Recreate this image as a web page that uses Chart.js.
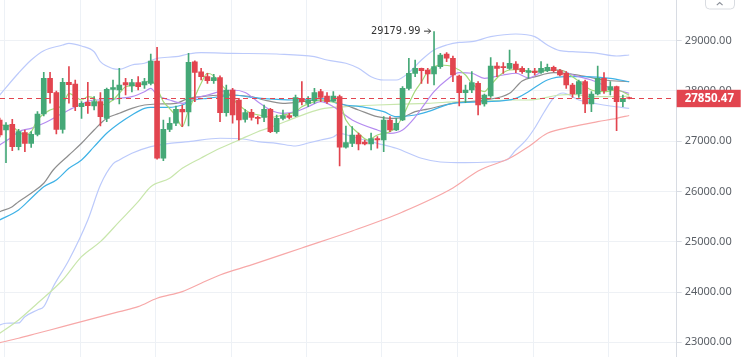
<!DOCTYPE html>
<html><head><meta charset="utf-8">
<script src="https://cdn.jsdelivr.net/npm/chart.js@4.4.1/dist/chart.umd.min.js"></script>
<style>html,body{margin:0;padding:0;background:#fff;overflow:hidden}canvas{display:block}</style>
</head><body>
<canvas id="c" width="744" height="357"></canvas>
<script>
// ---- candle data (index 0..100) ----
const openP = [27423,27224,27337,26891,27170,26959,27138,27542,28252,27966,
27237,28172,28138,27687,27775,27701,27787,27456,28029,28019,
28165,28098,28165,28118,28152,28596,26661,27237,27357,27635,
27582,28582,28383,28284,28204,28264,27568,28019,27820,27436,
27575,27476,27476,27635,27190,27456,27509,27502,27853,27754,
27807,27986,27900,27800,27886,26880,26959,27124,26985,26945,
27051,27025,27423,27224,27423,28053,28351,28450,28417,28338,
28483,28735,28650,28298,27966,28019,28152,27740,27900,28497,
28483,28451,28537,28451,28371,28398,28371,28404,28470,28404,
28351,28119,27940,28185,27741,27940,28252,28019,28085,27787,27866];
const closeP = [27124,27323,26891,27190,26959,27138,27542,28252,27966,27237,
28172,28125,27687,27755,27707,27787,27489,28033,28069,28118,
28118,28165,28085,28185,28596,26661,27237,27357,27635,27582,
28570,28371,28284,28204,28264,27568,28019,27522,27423,27568,
27476,27456,27635,27190,27456,27509,27476,27866,27787,27820,
27966,27874,27787,27900,26880,26971,27124,26945,26945,27051,
27025,27423,27224,27357,28053,28351,28450,28403,28338,28483,
28716,28650,28318,27966,28019,28165,27721,27920,28497,28451,
28463,28550,28431,28384,28404,28364,28451,28470,28404,28318,
28119,27940,28185,27741,27940,28252,28005,28085,27787,27854,27850.47];
const highP = [27463,27369,27437,27237,27224,27190,27588,28371,28371,28000,
28252,28483,28218,27787,28172,27886,27966,28059,28218,28450,
28252,28230,28284,28250,28735,28869,27423,27470,27700,27720,
28750,28600,28450,28350,28330,28300,28118,28052,27853,27630,
27635,27502,27721,27655,27522,27622,27555,27920,28185,27886,
28052,28033,27966,27986,27920,27303,27290,27164,27025,27164,
27091,27489,27489,27456,28085,28650,28616,28457,28450,29179.99,
28749,28762,28696,28318,28119,28384,28185,27940,28662,28563,
28563,28815,28583,28483,28451,28451,28583,28537,28497,28431,
28384,28152,28218,28218,27986,28497,28364,28185,28099,27920,27880];
const lowP = [27085,26573,26812,26826,26792,26879,27104,27502,27755,27144,
27158,27755,27608,27456,27555,27622,27303,27389,27820,27740,
27920,27980,28019,28050,28118,26641,26614,27190,27310,27290,
27303,27787,28218,28150,28150,27389,27500,27357,27025,27380,
27420,27343,27389,27170,27158,27423,27443,27489,27720,27687,
27754,27787,27754,27787,26508,26860,26892,26826,26925,26826,
26860,26793,27190,27210,27409,28019,28284,28152,28152,28119,
28450,28583,28185,27701,27767,27966,27522,27700,27873,28284,
28351,28431,28364,28351,28252,28318,28351,28384,28378,28298,
28053,27873,27873,27568,27588,27920,27953,27920,27210,27687,27840];

// ---- indicator lines, [candle index, price] ----
const bbUpper = [[0,27920],[3,28358],[5,28616],[7,28801],[10,28914],[11,28948],[13,28895],[15,28781],[16,28582],[18,28445],[19,28431],[21,28517],[23,28551],[25,28650],[28,28682],[30,28735],[32,28761],[37,28749],[44,28735],[50,28682],[52,28616],[55,28551],[57,28451],[59,28284],[61,28218],[63,28218],[65,28364],[67,28616],[69,28815],[71,28914],[73,28965],[75,28980],[78,29080],[82,29133],[85,29080],[87,28914],[89,28801],[91,28781],[95,28749],[98,28696],[100,28716]];
const bbLower = [[0,23345],[1,23379],[3,23385],[4,23510],[6,23644],[7,23709],[8.5,24107],[11,24638],[14,25434],[16,26130],[18,26548],[19,26627],[21,26760],[24,26892],[27,26959],[30,26991],[35,27059],[39,27040],[41,26991],[44,26959],[47,26905],[49,26965],[51,27025],[53,27085],[54,27158],[56,27090],[60,26959],[63,26860],[67,26661],[70,26587],[74,26573],[78,26587],[80.5,26627],[82,26826],[83.5,27005],[85,27264],[86.5,27582],[88,27860],[89.5,27960],[92,27820],[95,27741],[97,27701],[100,27655]];
const ma5 = [[0,27323],[2,27290],[3,27190],[4,27124],[5,27190],[6,27423],[8,27622],[10,27721],[11,27954],[12,27886],[13,27820],[14,27886],[15,27854],[16,27721],[18,27820],[19,27954],[20,28085],[22,28119],[23,28153],[24,28218],[25,28053],[26,27787],[27,27650],[28,27500],[29,27290],[30,27622],[31,27886],[32,28153],[33,28352],[34,28300],[35,28150],[36,28019],[37,27850],[38,27720],[39,27622],[40,27556],[42,27502],[43,27476],[45,27522],[47,27588],[48,27687],[50,27787],[51,27820],[52,27787],[54,27755],[55,27423],[57,27158],[58.5,27025],[60,27124],[62,27190],[63,27290],[64,27488],[65,27750],[66,28000],[67,28180],[68,28383],[70,28517],[72,28483],[74,28318],[75,28153],[77,27986],[78,28119],[79.5,28318],[81,28417],[83,28430],[84,28383],[89,28417],[91,28284],[94,28019],[96,27986],[98,28019],[100,27920]];
const ma10 = [[0,26925],[2,27090],[3,27190],[5,27257],[7,27357],[9,27488],[11,27622],[13,27741],[15,27820],[17,27820],[19,27854],[21,27886],[23,27986],[24,28053],[25,27920],[27,27820],[29,27755],[31,27854],[33,27920],[35,27986],[37,28019],[39,27970],[41,27787],[43,27622],[45,27556],[47,27588],[49,27687],[51,27787],[53,27687],[56,27423],[60,27224],[62,27158],[64,27224],[66,27480],[67.5,27740],[69,27986],[71,28218],[73,28364],[75,28352],[77,28252],[80,28318],[82,28352],[84,28260],[87,28417],[89,28417],[91,28318],[94,28218],[97,28060],[100,27954]];
const ma30 = [[0,25599],[2,25698],[3,25798],[5,25965],[7,26164],[8.5,26428],[11,26726],[13,26959],[15,27224],[17,27456],[19,27556],[21,27655],[23,27721],[25,27741],[28,27755],[30,27854],[33,27900],[36,27920],[40,27886],[42,27820],[45,27755],[48,27787],[51,27820],[54,27755],[57,27622],[60,27488],[62,27456],[64,27476],[66,27588],[68,27640],[72,27755],[77,27820],[81,27954],[83,28200],[85,28280],[88,28364],[90,28350],[93,28290],[96,28218],[100,28184]];
const ma20 = [[0,25434],[3,25633],[5,25865],[7,26096],[9,26229],[11,26462],[13,26627],[15,26892],[17,27158],[19,27357],[21,27522],[23,27655],[24,27675],[27,27675],[29,27721],[31,27820],[33,27854],[35,27886],[37,27920],[40,27874],[44,27834],[47,27820],[51,27854],[54,27741],[58,27675],[61,27588],[63,27488],[66,27522],[68,27588],[72,27755],[77,27787],[82,27854],[84,27986],[87,28218],[90,28284],[93,28284],[97,28252],[100,28184]];
const ma60 = [[0,23180],[3,23445],[6,23777],[10,24240],[13,24704],[16,25002],[19,25400],[22,25798],[24,26096],[27,26263],[29,26462],[32,26667],[35,26860],[38,27025],[41,27190],[44,27323],[47,27470],[51,27640],[55,27690],[60,27721],[68,27755],[73,27787],[77,27800],[81,27820],[84,27820],[89,27920],[91,27934],[94,27886],[98,27886],[100,27900]];
const ma200 = [[0,22993],[3,23080],[6,23180],[10,23311],[13,23411],[16,23510],[19,23610],[22,23709],[25,23876],[29,24008],[32,24175],[35,24340],[40,24539],[48,24877],[56,25215],[64,25593],[72,26070],[76,26408],[81,26661],[84,26892],[87,27158],[91,27290],[95,27389],[98,27456],[100,27512]];

// ---- axis ticks ----
const yTicks = [23000,24000,25000,26000,27000,28000,29000];
const xGridTicks = [6.8,18.8,30.7,42.8,54.6,66.7,78.8,90.8,102.7];
const lastPrice = closeP[closeP.length-1];

const GREEN = '#45a877', RED = '#e2454f';
const idx = openP.map((_, i) => i);
const candleColor = ctx => closeP[ctx.dataIndex] >= openP[ctx.dataIndex] ? GREEN : RED;
const toXY = arr => arr.map(p => ({x: p[0], y: p[1]}));
const lineDs = (data, color, order, w) => ({
  type: 'line', data: toXY(data), borderColor: color, borderWidth: w || 1.2,
  pointRadius: 0, fill: false, cubicInterpolationMode: 'monotone', order: order
});

const overlay = {
  id: 'overlay',
  afterDraw(chart) {
    const c = chart.ctx, a = chart.chartArea;
    const xs = chart.scales.x, ys = chart.scales.y;
    const py = ys.getPixelForValue(lastPrice);
    c.save();
    // current price dashed line
    c.strokeStyle = RED; c.lineWidth = 1; c.setLineDash([5, 4]);
    c.beginPath(); c.moveTo(a.left, Math.round(py) + 0.5); c.lineTo(a.right - 2, Math.round(py) + 0.5); c.stroke();
    c.setLineDash([]);
    // price label
    c.fillStyle = RED;
    c.fillRect(a.right, py - 8.7, 64, 17.4);
    c.fillStyle = '#ffffff'; c.font = 'bold 11.5px "Noto Sans"'; c.textBaseline = 'middle'; c.textAlign = 'left';
    c.fillText(lastPrice.toFixed(2), a.right + 8, py + 0.5);
    // highest marker
    let hi = 0; highP.forEach((v, i) => { if (v > highP[hi]) hi = i; });
    const hx = xs.getPixelForValue(hi), hy = ys.getPixelForValue(highP[hi]);
    c.fillStyle = '#333'; c.font = '10.3px "DejaVu Sans Mono"'; c.textAlign = 'right'; c.textBaseline = 'middle';
    c.fillText(highP[hi].toFixed(2), hx - 13.5, hy - 0.5);
    c.strokeStyle = '#333'; c.lineWidth = 1;
    c.beginPath(); c.moveTo(hx - 10, hy - 0.5); c.lineTo(hx - 3.5, hy - 0.5); c.stroke();
    c.beginPath(); c.moveTo(hx - 6, hy - 3); c.lineTo(hx - 3.5, hy - 0.5); c.lineTo(hx - 6, hy + 2); c.stroke();
    // top-right collapse button
    c.fillStyle = '#fff'; c.strokeStyle = '#d9dce1';
    c.beginPath(); c.roundRect(705.5, -6.5, 29, 15.5, 4); c.fill(); c.stroke();
    c.strokeStyle = '#8a8f98'; c.lineWidth = 1.1;
    c.beginPath(); c.moveTo(716.8, 5.2); c.lineTo(719.7, 2.6); c.lineTo(722.6, 5.2); c.stroke();
    c.restore();
  }
};

new Chart(document.getElementById('c'), {
  data: {
    datasets: [
      { type: 'bar', data: idx.map(i => ({x: i, y: [openP[i], closeP[i]]})), backgroundColor: candleColor,
        barThickness: 5, minBarLength: 1, grouped: false, order: 0 },
      { type: 'bar', data: idx.map(i => ({x: i, y: [lowP[i], highP[i]]})), backgroundColor: candleColor,
        barThickness: 1, grouped: false, order: 1 },
      lineDs(ma5, '#a3d977', 2),
      lineDs(ma10, '#b58cf0', 3),
      lineDs(ma20, '#3fb2e6', 4),
      lineDs(ma30, '#8e8e8e', 5),
      lineDs(ma60, '#c8e6ac', 6),
      lineDs(ma200, '#f7a8a8', 7),
      lineDs(bbUpper, '#bccafb', 8),
      lineDs(bbLower, '#bccafb', 9)
    ]
  },
  options: {
    responsive: false, animation: false, devicePixelRatio: 1, events: [],
    layout: { padding: 0 },
    plugins: { legend: { display: false }, tooltip: { enabled: false } },
    scales: {
      x: {
        type: 'linear', min: 0.0477, max: 107.55, offset: false,
        afterBuildTicks: s => { s.ticks = xGridTicks.map(v => ({value: v})); },
        ticks: { display: false },
        grid: { color: '#edf1f6', drawTicks: false },
        border: { display: false },
        afterFit: s => { s.height = 0; s.paddingLeft = 0; s.paddingRight = 0; }
      },
      y: {
        type: 'linear', position: 'right', min: 22707.6, max: 29809.7,
        afterBuildTicks: s => { s.ticks = yTicks.map(v => ({value: v})); },
        ticks: { callback: v => Number(v).toFixed(2), color: '#5a5f66', font: { family: 'Noto Sans', size: 11 }, padding: 3 },
        grid: { color: '#eef1f5', tickColor: '#d8dce3', tickLength: 5 },
        border: { color: '#d8dce3' },
        afterFit: s => { s.width = 67.3; s.paddingTop = 0; s.paddingBottom = 0; }
      }
    }
  },
  plugins: [overlay]
});
</script>
</body></html>
